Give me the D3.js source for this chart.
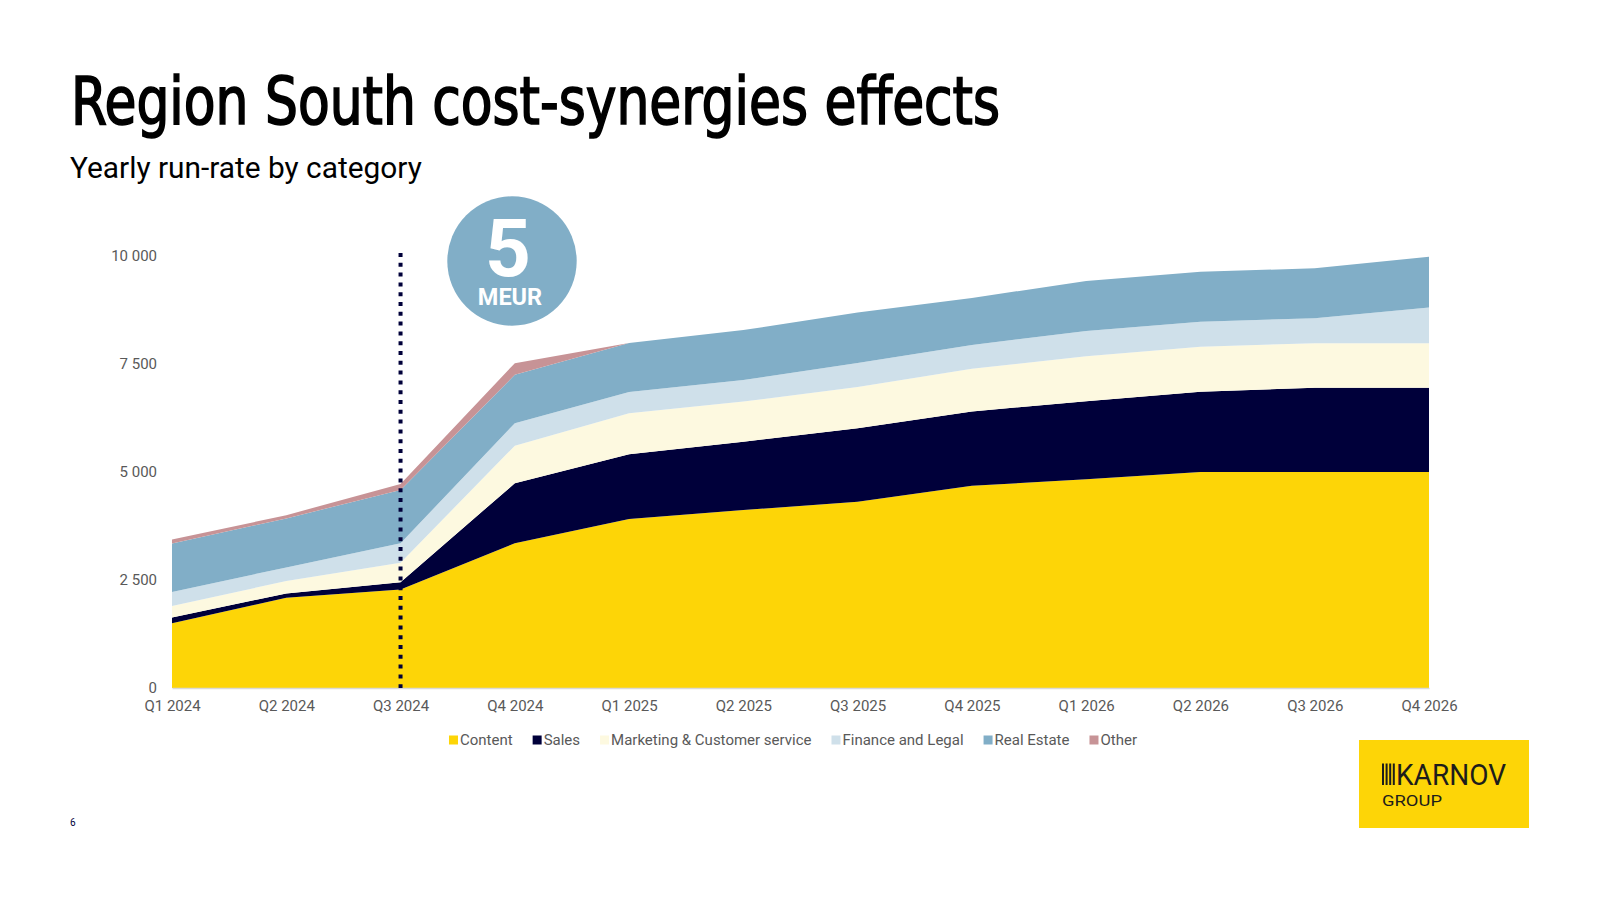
<!DOCTYPE html>
<html>
<head>
<meta charset="utf-8">
<script src="https://cdn.jsdelivr.net/npm/d3@7"></script>
<style>
  html, body { margin: 0; padding: 0; background: #ffffff; }
  svg { display: block; }
</style>
</head>
<body>
<svg id="chart" width="1600" height="900"></svg>
<script>
// ---------------- DATA ----------------
const quarters = ["Q1 2024","Q2 2024","Q3 2024","Q4 2024","Q1 2025","Q2 2025","Q3 2025","Q4 2025","Q1 2026","Q2 2026","Q3 2026","Q4 2026"];
const seriesNames = ["Content","Sales","Marketing & Customer service","Finance and Legal","Real Estate","Other"];
const content   = [1500, 2090, 2280, 3350, 3910, 4120, 4310, 4680, 4830, 5000, 5000, 5000];
const sales     = [ 130,  100,  170, 1390, 1500, 1580, 1700, 1720, 1810, 1860, 1950, 1950];
const marketing = [ 270,  285,  450,  870,  950,  930,  960,  990, 1040, 1040, 1030, 1030];
const finance   = [ 325,  315,  450,  520,  490,  500,  555,  550,  585,  580,  580,  825];
const realEstate= [1120, 1135, 1235, 1120, 1135, 1155, 1170, 1090, 1155, 1155, 1155, 1180];
const other     = [  90,   75,  140,  270,    0,    0,    0,    0,    0,    0,    0,    0];
const yTicks = [0, 2500, 5000, 7500, 10000];
const markerQuarter = "Q3 2024";
const badgeValue = "5";
const badgeUnit = "MEUR";
const titleText = "Region South cost-synergies effects";
const subtitleText = "Yearly run-rate by category";
const pageNumber = "6";

const colors = ["#FDD507", "#00003A", "#FDF9E0", "#CFE0EA", "#81AEC7", "#C79396"];

// ---------------- BUILD ----------------
const valuesBySeries = [content, sales, marketing, finance, realEstate, other];
const rows = quarters.map((q, i) => {
  const r = { q };
  seriesNames.forEach((s, k) => r[s] = valuesBySeries[k][i]);
  return r;
});

const svg = d3.select("#chart");

const x = d3.scalePoint().domain(quarters).range([172, 1429]);
const y = d3.scaleLinear().domain([0, 10000]).range([688, 256]);

const layers = d3.stack().keys(seriesNames)(rows);

const area = d3.area()
  .x(d => x(d.data.q))
  .y0(d => y(d[0]))
  .y1(d => y(d[1]))
  .curve(d3.curveLinear);

svg.append("g").selectAll("path")
  .data(layers)
  .join("path")
  .attr("d", area)
  .attr("fill", (d, i) => colors[i])
  .attr("stroke", "none");

const loc = d3.formatLocale({ decimal: ",", thousands: " ", grouping: [3], currency: ["", ""] });
const fmt = loc.format(",d");

// Y axis
const yAxis = svg.append("g")
  .attr("transform", "translate(172,0)")
  .call(d3.axisLeft(y).tickValues(yTicks).tickFormat(fmt).tickSize(0).tickPadding(15));
yAxis.select(".domain").remove();
yAxis.selectAll("text")
  .attr("font-family", "Roboto, sans-serif")
  .attr("font-size", 15)
  .attr("fill", "#595959");

// X axis
const xAxis = svg.append("g")
  .attr("transform", "translate(0,688)")
  .call(d3.axisBottom(x).tickSize(0).tickPadding(12));
xAxis.select(".domain").attr("stroke", "#D9D9D9").attr("stroke-width", 1.5);
xAxis.selectAll("text")
  .attr("font-family", "Roboto, sans-serif")
  .attr("font-size", 15)
  .attr("fill", "#595959");

// Dotted marker line
svg.append("line")
  .attr("x1", x(markerQuarter)).attr("x2", x(markerQuarter))
  .attr("y1", 253).attr("y2", 688)
  .attr("stroke", "#00003A")
  .attr("stroke-width", 4)
  .attr("stroke-dasharray", "4,5.8");

// Badge
svg.append("circle")
  .attr("cx", 512).attr("cy", 261).attr("r", 64.7)
  .attr("fill", "#81AEC7");
svg.append("text")
  .attr("x", 508).attr("y", 276)
  .attr("text-anchor", "middle")
  .attr("font-family", "Roboto, sans-serif")
  .attr("font-weight", 700)
  .attr("font-size", 80)
  .attr("fill", "#ffffff")
  .text(badgeValue);
svg.append("text")
  .attr("x", 510).attr("y", 305)
  .attr("text-anchor", "middle")
  .attr("font-family", "Roboto, sans-serif")
  .attr("font-weight", 700)
  .attr("font-size", 23.5)
  .attr("fill", "#ffffff")
  .text(badgeUnit);

// Title & subtitle
svg.append("text")
  .attr("x", 71).attr("y", 124)
  .attr("font-family", "'DejaVu Sans Condensed', 'Liberation Sans Narrow', sans-serif")
  .attr("font-weight", 400)
  .attr("font-size", 65)
  .attr("fill", "#000000")
  .attr("stroke", "#000000")
  .attr("stroke-width", 1.6)
  .attr("textLength", 929).attr("lengthAdjust", "spacingAndGlyphs")
  .text(titleText);

const sub = svg.append("text")
  .attr("x", 70).attr("y", 178)
  .attr("font-family", "Roboto, sans-serif")
  .attr("font-size", 28)
  .attr("fill", "#000000")
  .text(subtitleText);
{
  const w = sub.node().getComputedTextLength();
  sub.attr("font-size", 28 * 352 / w);
}

// Legend
const legend = svg.append("g");
const gap = 20, sq = 9, sqGap = 2;
const items = legend.selectAll("g").data(seriesNames).join("g");
items.append("rect")
  .attr("width", sq).attr("height", sq)
  .attr("y", 740 - sq / 2)
  .attr("fill", (d, i) => colors[i]);
items.append("text")
  .attr("y", 740).attr("dy", "0.35em")
  .attr("font-family", "Roboto, sans-serif")
  .attr("font-size", 15)
  .attr("fill", "#595959")
  .text(d => d);
const widths = [];
items.each(function() {
  widths.push(d3.select(this).select("text").node().getComputedTextLength());
});
const total = widths.reduce((a, w) => a + sq + sqGap + w, 0) + gap * (widths.length - 1);
let cx = 793 - total / 2;
items.each(function(d, i) {
  const g = d3.select(this);
  g.select("rect").attr("x", cx);
  g.select("text").attr("x", cx + sq + sqGap);
  cx += sq + sqGap + widths[i] + gap;
});

// Logo
const logo = svg.append("g");
logo.append("rect")
  .attr("x", 1359).attr("y", 740).attr("width", 170).attr("height", 88)
  .attr("fill", "#FDD507");
[0, 1, 2, 3].forEach(k => {
  logo.append("rect")
    .attr("x", 1382 + k * 3.6).attr("y", 763.5)
    .attr("width", 2).attr("height", 21.5)
    .attr("fill", "#1D1D1B");
});
logo.append("text")
  .attr("x", 1396).attr("y", 785)
  .attr("font-family", "Roboto, sans-serif")
  .attr("font-weight", 400)
  .attr("font-size", 30)
  .attr("fill", "#1D1D1B")
  .attr("textLength", 110).attr("lengthAdjust", "spacingAndGlyphs")
  .text("KARNOV");
logo.append("text")
  .attr("x", 1382).attr("y", 806)
  .attr("font-family", "Roboto, sans-serif")
  .attr("font-weight", 400)
  .attr("font-size", 15.5)
  .attr("fill", "#1D1D1B")
  .attr("textLength", 60).attr("lengthAdjust", "spacingAndGlyphs")
  .text("GROUP");

// Page number
svg.append("text")
  .attr("x", 70).attr("y", 826)
  .attr("font-family", "Roboto, sans-serif")
  .attr("font-size", 10)
  .attr("fill", "#00003A")
  .text(pageNumber);
</script>
</body>
</html>
